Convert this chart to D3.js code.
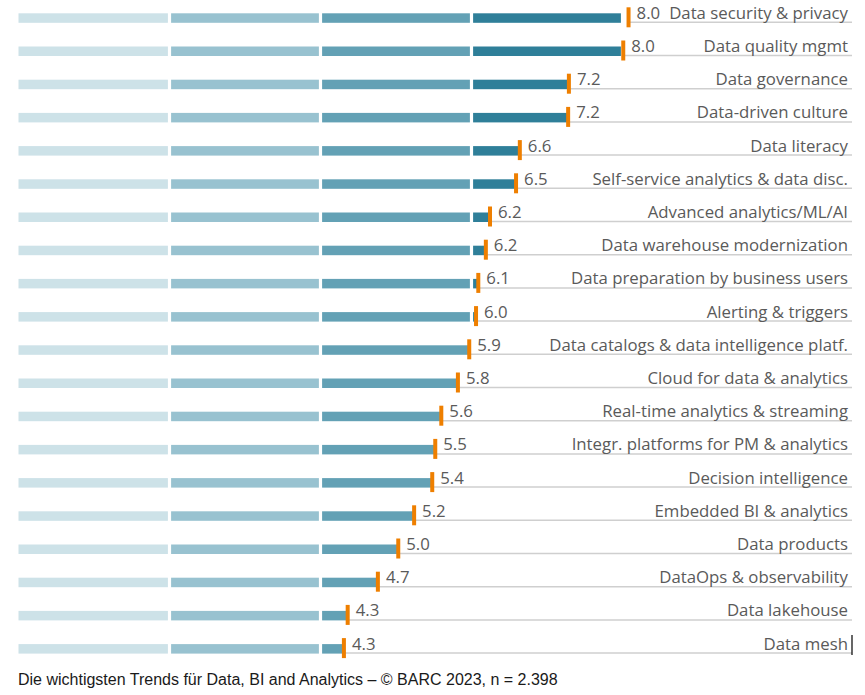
<!DOCTYPE html>
<html>
<head>
<meta charset="utf-8">
<script src="https://cdn.jsdelivr.net/npm/d3@7"></script>
<style>
  body { margin: 0; background: #fff; }
  svg { display: block; }
</style>
</head>
<body>
<div id="chart"></div>
<script>
// Trends, sorted as in the picture
const categories = [
  "Data security & privacy", "Data quality mgmt", "Data governance", "Data-driven culture",
  "Data literacy", "Self-service analytics & data disc.", "Advanced analytics/ML/AI",
  "Data warehouse modernization", "Data preparation by business users", "Alerting & triggers",
  "Data catalogs & data intelligence platf.", "Cloud for data & analytics",
  "Real-time analytics & streaming", "Integr. platforms for PM & analytics",
  "Decision intelligence", "Embedded BI & analytics", "Data products",
  "DataOps & observability", "Data lakehouse", "Data mesh"
];
const values = [8.08, 8.01, 7.29, 7.28, 6.64, 6.59, 6.245, 6.19, 6.09, 6.06,
  5.97, 5.82, 5.60, 5.52, 5.48, 5.24, 5.03, 4.76, 4.36, 4.31];
// printed labels
const valueLabels = ["8.0", "8.0", "7.2", "7.2", "6.6", "6.5", "6.2", "6.2", "6.1", "6.0",
  "5.9", "5.8", "5.6", "5.5", "5.4", "5.2", "5.0", "4.7", "4.3", "4.3"];
const bands = [[0, 2], [2, 4], [4, 6], [6, 8]];
const bandColors = ["#cde2e8", "#98c2d0", "#63a1b5", "#2f7f99"];
const footnote = "Die wichtigsten Trends für Data, BI and Analytics – © BARC 2023, n = 2.398";

const width = 865, height = 695;
const svg = d3.select("#chart").append("svg")
  .attr("width", width)
  .attr("height", height);

const x = d3.scaleLinear().domain([0, 8]).range([18.5, 622.5]);
const y = d3.scaleBand().domain(categories).range([13.3, 13.3 + 33.2 * 20]).paddingInner(0);
const barH = 9.5;
const gap = 1.6;
const lineEnd = 852;

const rows = svg.selectAll(".row")
  .data(categories.map((c, i) => ({ name: c, value: values[i], label: valueLabels[i] })))
  .join("g")
  .attr("class", "row")
  .attr("transform", d => `translate(0,${y(d.name)})`);

// grey baseline under the label
rows.append("line")
  .attr("x1", d => x(d.value))
  .attr("x2", lineEnd)
  .attr("y1", barH - 0.5)
  .attr("y2", barH - 0.5)
  .attr("stroke", "#cfcfcf")
  .attr("stroke-width", 1.5);

// segmented bar
rows.each(function(d) {
  const g = d3.select(this);
  bands.forEach(([a, b], k) => {
    if (d.value <= a) return;
    const x0 = k === 0 ? x(a) : x(a) + gap;
    const x1 = Math.min(x(b) - gap, x(d.value));
    g.append("rect")
      .attr("x", x0)
      .attr("y", 0)
      .attr("width", Math.max(0, x1 - x0))
      .attr("height", barH)
      .attr("fill", bandColors[k]);
  });
});

// orange marker
rows.append("rect")
  .attr("x", d => x(d.value) - 2)
  .attr("y", -6)
  .attr("width", 4)
  .attr("height", barH + 10.5)
  .attr("fill", "#ee7f00");

rows.append("text")
  .attr("x", d => x(d.value) + 8)
  .attr("y", 5.5)
  .attr("font-family", "'Open Sans', sans-serif")
  .attr("font-size", "16.8px")
  .attr("fill", "#5a5a5a")
  .text(d => d.label);

rows.append("text")
  .attr("x", 848)
  .attr("y", 5.5)
  .attr("text-anchor", "end")
  .attr("font-family", "'Open Sans', sans-serif")
  .attr("font-size", "16.8px")
  .attr("fill", "#5a5a5a")
  .text(d => d.name);

// caret artefact at the end of the last label
const last = categories[categories.length - 1];
svg.append("line")
  .attr("x1", 852).attr("x2", 852)
  .attr("y1", y(last) - 9).attr("y2", y(last) + 11)
  .attr("stroke", "#000")
  .attr("stroke-width", 1.2);

svg.append("text")
  .attr("x", 18)
  .attr("y", 685)
  .attr("font-family", "'Liberation Sans', Arial, sans-serif")
  .attr("font-size", "16px")
  .attr("fill", "#1a1a1a")
  .text(footnote);
</script>
</body>
</html>
